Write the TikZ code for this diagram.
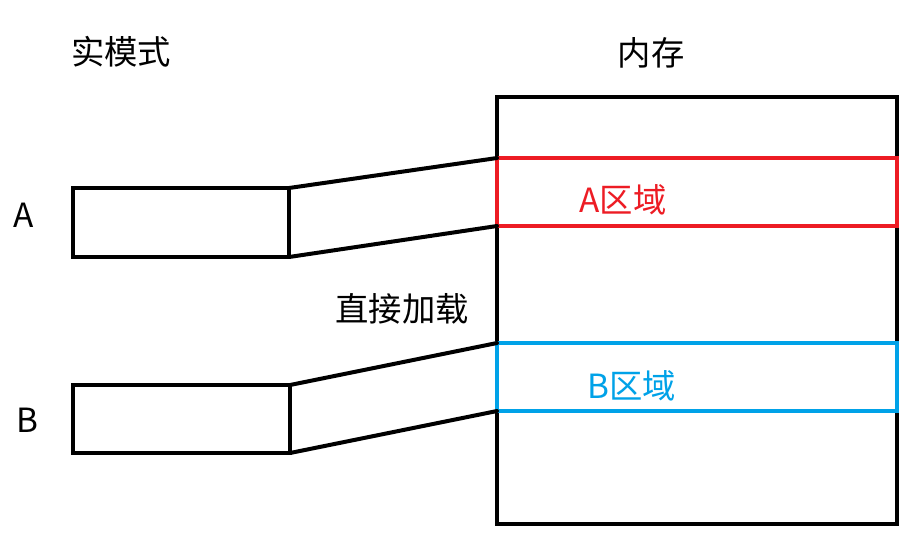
\documentclass[tikz,border=0pt]{standalone}
\usepackage{fontspec}
\setmainfont{Noto Sans CJK SC}
\definecolor{pred}{HTML}{ED1C24}
\definecolor{pblue}{HTML}{00A2E8}
\begin{document}
\begin{tikzpicture}[x=0.75pt,y=-0.75pt,
  box/.style={draw=black,line width=3pt,inner sep=0pt,outer sep=0pt},
  conn/.style={draw=black,line width=3pt,line cap=round},
  lbl/.style={font=\fontsize{25}{30}\selectfont,inner sep=0pt}]
\useasboundingbox[fill=white] (0,0) rectangle (923,544);
% memory
\node[box,minimum width=400*0.75pt,minimum height=427*0.75pt,anchor=north west] (mem) at (497,97) {};
\node[box,draw=pred,minimum width=400*0.75pt,minimum height=68*0.75pt,anchor=north west] (ra) at (497,158) {};
\node[box,draw=pblue,minimum width=400*0.75pt,minimum height=68*0.75pt,anchor=north west] (rb) at (497,343) {};
% real-mode boxes
\node[box,minimum width=216*0.75pt,minimum height=69*0.75pt,anchor=north west] (ba) at (73,188) {};
\node[box,minimum width=217*0.75pt,minimum height=68*0.75pt,anchor=north west] (bb) at (73,385) {};
% connectors
\draw[conn] (ba.north east) -- (ra.north west);
\draw[conn] (ba.south east) -- (ra.south west);
\draw[conn] (bb.north east) -- (rb.north west);
\draw[conn] (bb.south east) -- (rb.south west);
% labels
\node[lbl] (t1) at (121,52) {实模式};
\node[lbl] (t2) at (651,53) {内存};
\node[lbl] (la) at (24,215) {A};
\node[lbl] (lb) at (27,420) {B};
\node[lbl] (t3) at (402,309) {直接加载};
\node[lbl,text=pred] (ta) at (623,200) {A区域};
\node[lbl,text=pblue] (tb) at (632,386) {B区域};
\end{tikzpicture}
\end{document}
